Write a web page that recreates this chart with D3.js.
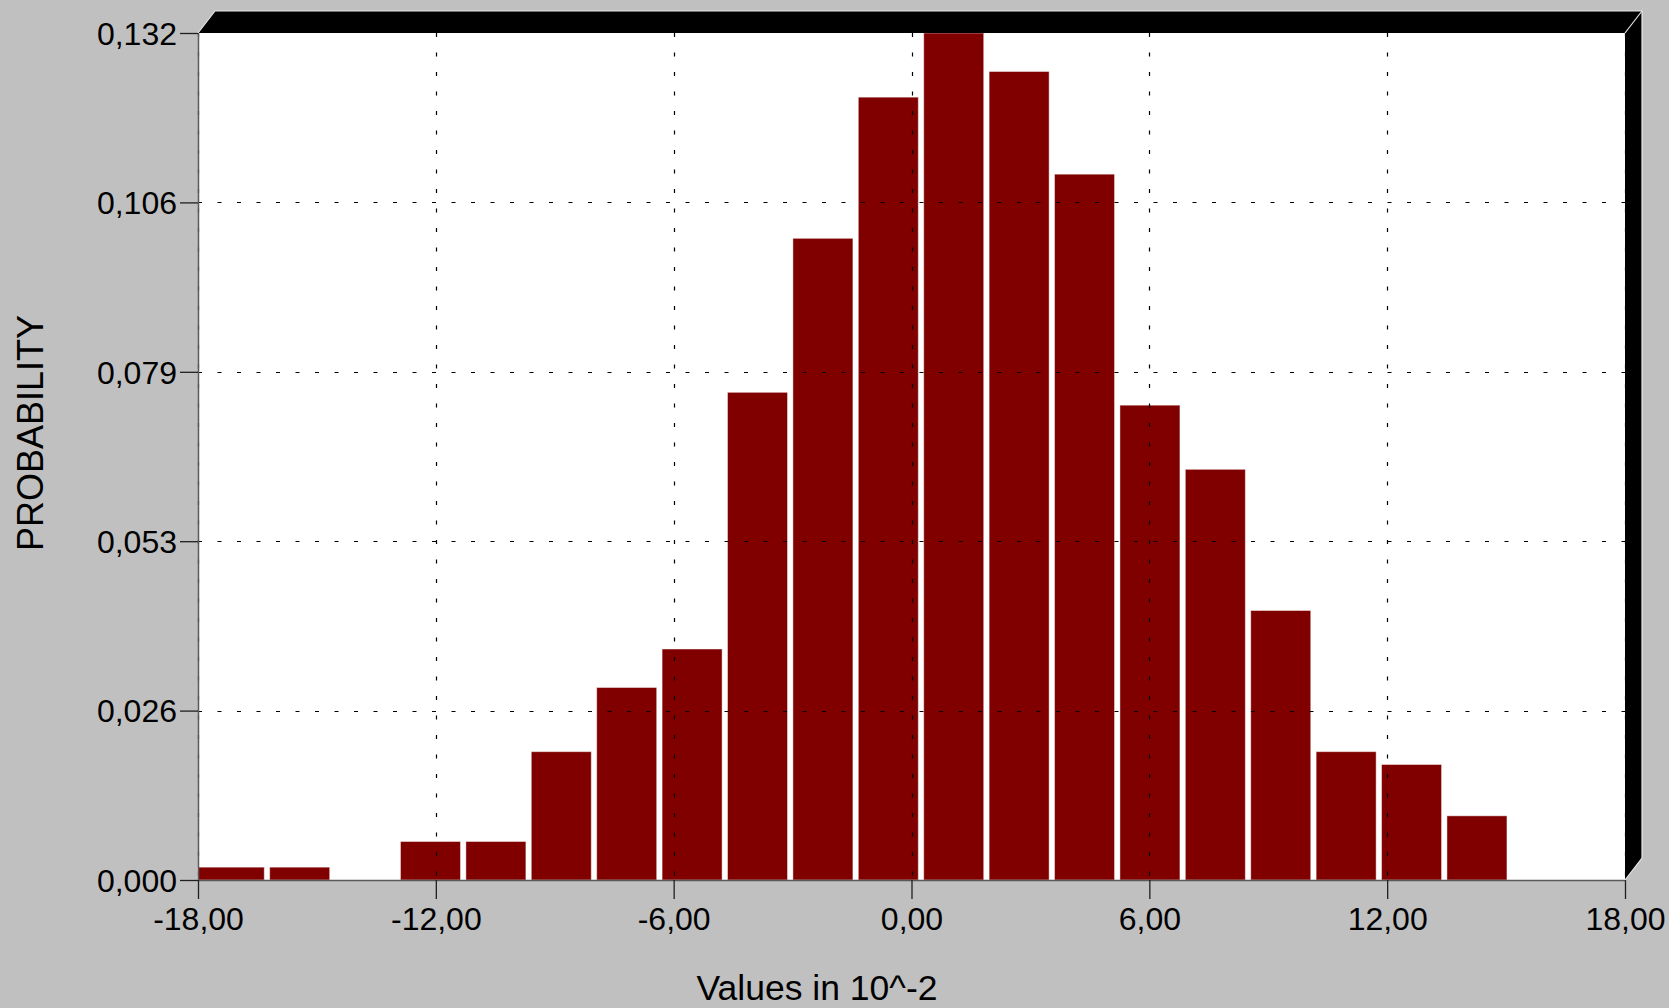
<!DOCTYPE html>
<html>
<head>
<meta charset="utf-8">
<script src="https://cdn.jsdelivr.net/npm/d3@7"></script>
<style>
  html, body { margin: 0; padding: 0; background: #c0c0c0; }
  svg { display: block; }
  text { font-family: "Liberation Sans", Arial, sans-serif; fill: #000; }
</style>
</head>
<body>
<svg id="chart" width="1669" height="1008"></svg>
<script>
// Histogram: probability per bin (bin width 1.65, in units of 10^-2)
const binStart = -17.91;
const binWidth = 1.65;
const probabilities = [0.002, 0.002, 0.000, 0.006, 0.006, 0.020, 0.030, 0.036, 0.076, 0.100,
                       0.122, 0.132, 0.126, 0.110, 0.074, 0.064, 0.042, 0.020, 0.018, 0.010];

const xTicks = [-18, -12, -6, 0, 6, 12, 18];
const yTicks = [0, 0.0264, 0.0528, 0.0792, 0.1056, 0.132];
const xTitle = "Values in 10^-2";
const yTitle = "PROBABILITY";

const W = 1669, H = 1008;
const margin = { left: 198, right: 44, top: 33, bottom: 128 };
const depth = { dx: 17, dy: 22 };

const svg = d3.select("#chart");

const x = d3.scaleLinear().domain([xTicks[0], xTicks[xTicks.length - 1]])
  .range([margin.left, W - margin.right]);
const y = d3.scaleLinear().domain([0, yTicks[yTicks.length - 1]])
  .range([H - margin.bottom, margin.top]);

const [x0, x1] = x.range();
const [yB, yT] = y.range();

// background and plot area
svg.append("rect").attr("width", W).attr("height", H).attr("fill", "#c0c0c0");
svg.append("rect").attr("x", x0).attr("y", yT).attr("width", x1 - x0).attr("height", yB - yT)
  .attr("fill", "#ffffff");

const bins = probabilities.map((p, i) => ({
  lo: binStart + i * binWidth,
  hi: binStart + (i + 1) * binWidth,
  p
})).filter(d => d.p > 0);

// bars, inset so neighbouring bars are separated by a white gap;
// the first bin sits flush against the left axis
const inset = 2.7;
const barLeft = d => d.lo <= binStart ? x0 : x(d.lo) + inset;
svg.append("g").selectAll("rect").data(bins).join("rect")
  .attr("x", barLeft)
  .attr("width", d => (x(d.hi) - inset) - barLeft(d))
  .attr("y", d => y(d.p))
  .attr("height", d => y(0) - y(d.p))
  .attr("fill", "#800000")
  .attr("stroke", "rgba(255,255,255,0.45)")
  .attr("stroke-width", 1);

// dotted grid drawn over the bars
const grid = svg.append("g").attr("stroke", "#000").attr("stroke-width", 1.2)
  .attr("stroke-dasharray", "4,15.5");
grid.selectAll("line.v").data(xTicks).join("line").attr("class", "v")
  .attr("x1", d => Math.round(x(d)) + 0.5).attr("x2", d => Math.round(x(d)) + 0.5)
  .attr("y1", yT).attr("y2", yB);
grid.selectAll("line.h").data(yTicks.slice(1, -1)).join("line").attr("class", "h")
  .attr("y1", d => Math.round(y(d)) + 0.5).attr("y2", d => Math.round(y(d)) + 0.5)
  .attr("x1", x0).attr("x2", x1);

const fmt = (v, n) => v.toFixed(n).replace(".", ",");

// axes
const yAxis = svg.append("g").attr("transform", `translate(${x0},0)`)
  .call(d3.axisLeft(y).tickValues(yTicks).tickSize(18).tickSizeOuter(0)
    .tickFormat(d => fmt(d, 3)));
const xAxis = svg.append("g").attr("transform", `translate(0,${yB})`)
  .call(d3.axisBottom(x).tickValues(xTicks).tickSize(19).tickSizeOuter(0)
    .tickFormat(d => fmt(d, 2)));

[yAxis, xAxis].forEach(a => {
  a.select(".domain").attr("stroke", "#5a5a5a").attr("stroke-width", 1.5);
  a.selectAll(".tick line").attr("stroke", "#202020").attr("stroke-width", 1.3);
  a.selectAll(".tick text").attr("font-size", 32)
    .attr("font-family", '"Liberation Sans", Arial, sans-serif').attr("fill", "#000");
});
yAxis.selectAll(".tick text").attr("x", -21).attr("dy", "0.35em");
xAxis.selectAll(".tick text").attr("y", 27).attr("dy", "0.71em");

// raised 3D frame along the top and right edges
const frame = [
  [x0, yT], [x0 + depth.dx, yT - depth.dy], [x1 + depth.dx, yT - depth.dy],
  [x1 + depth.dx, yB - depth.dy], [x1, yB], [x1, yT]
];
svg.append("path").attr("d", d3.line()(frame) + "Z").attr("fill", "#000");
const rim = [
  [x0, yT], [x0 + depth.dx, yT - depth.dy], [x1 + depth.dx, yT - depth.dy],
  [x1 + depth.dx, yB - depth.dy], [x1, yB]
];
svg.append("path").attr("d", d3.line()(rim)).attr("fill", "none")
  .attr("stroke", "#e6e6e6").attr("stroke-width", 1.2);
svg.append("line").attr("x1", x1).attr("y1", yT).attr("x2", x1 + depth.dx).attr("y2", yT - depth.dy)
  .attr("stroke", "#e6e6e6").attr("stroke-width", 1.2);

// axis titles
svg.append("text").attr("x", 817).attr("y", 1000).attr("text-anchor", "middle")
  .attr("font-size", 35.5).text(xTitle);
svg.append("text").attr("transform", "translate(43,433) rotate(-90)")
  .attr("text-anchor", "middle").attr("font-size", 36).text(yTitle);
</script>
</body>
</html>
